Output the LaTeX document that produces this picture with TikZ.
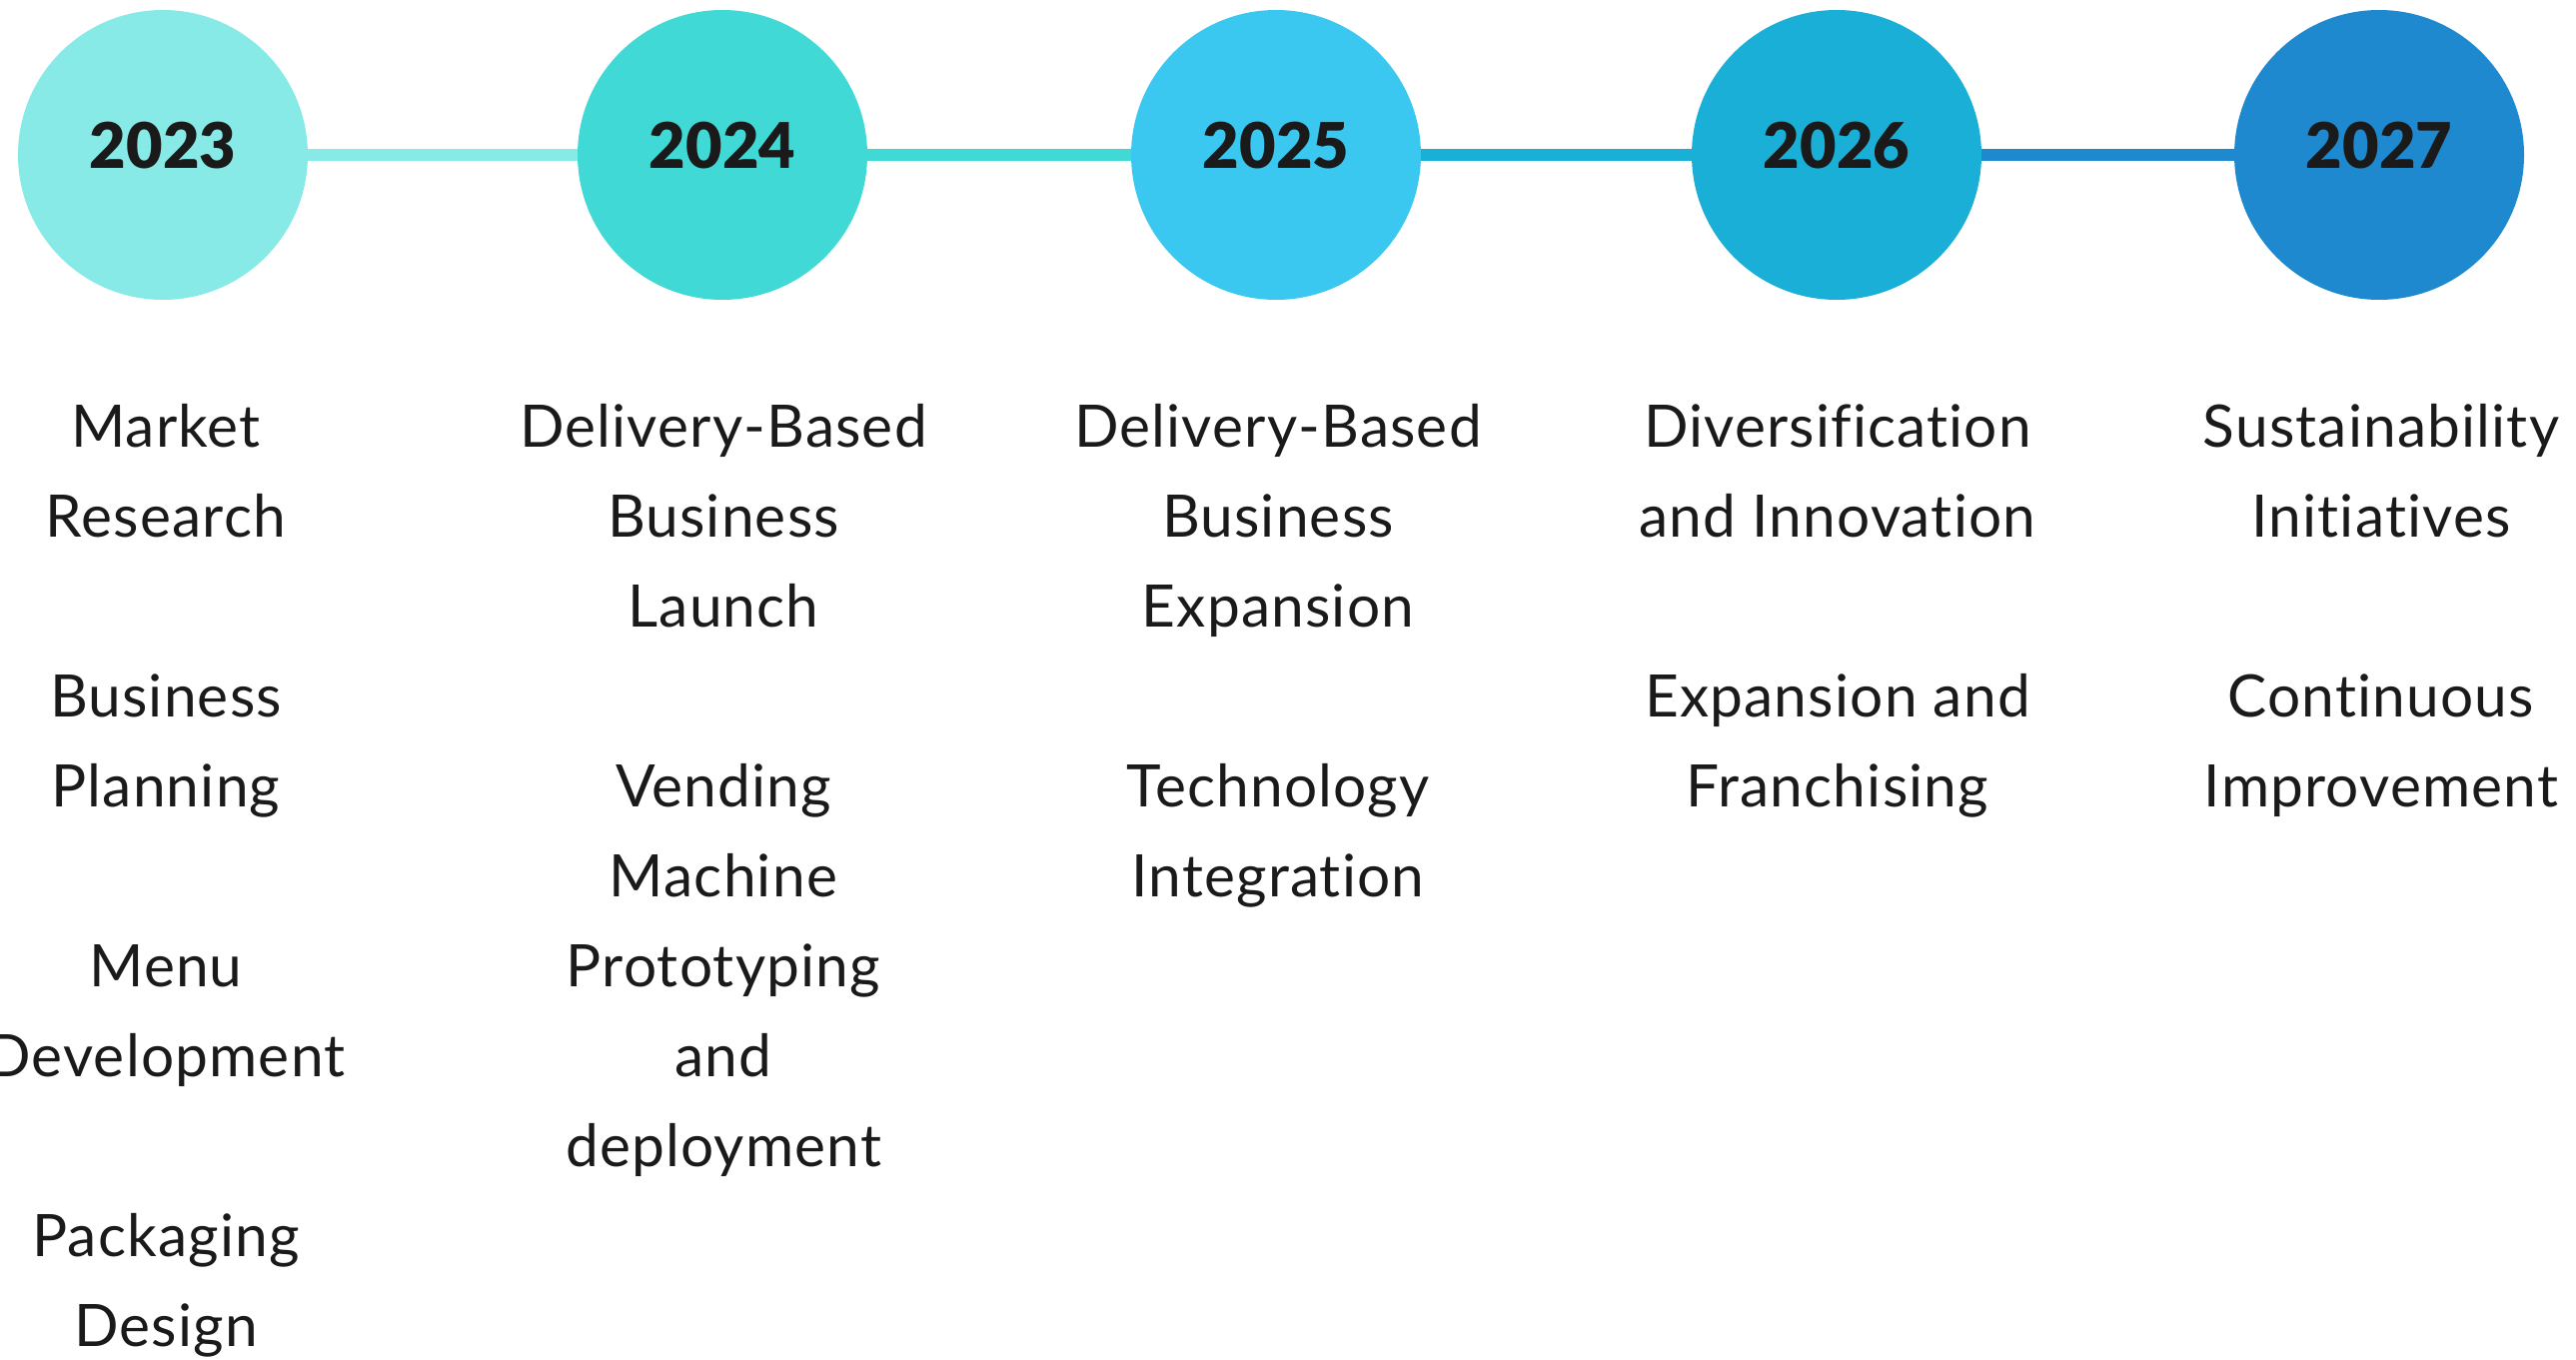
\documentclass[tikz,border=0pt]{standalone}
\usepackage{fontspec}
\setmainfont{Lato}[Ligatures=NoCommon,LetterSpace=2]
\newfontfamily\yearfamily{Lato}[Ligatures=NoCommon,BoldFont={Lato Black}]
\begin{document}
\definecolor{cA}{HTML}{88EAE7}
\definecolor{cB}{HTML}{40D9D6}
\definecolor{cC}{HTML}{3AC8F0}
\definecolor{cD}{HTML}{1AAFD6}
\definecolor{cE}{HTML}{1E89CF}
\definecolor{ink}{HTML}{1A1A1A}
\begin{tikzpicture}[x=1pt,y=-1pt,
  yeardot/.style={circle,fill=#1,draw=none,minimum size=290pt,inner sep=0pt},
  yeartext/.style={text=ink,font=\yearfamily\fontsize{63}{63}\selectfont\bfseries,yshift=9pt},
  link/.style={line width=12pt,draw=#1},
  item/.style={text=ink,align=center,anchor=base,inner sep=0pt,
    font=\fontsize{58.6}{90}\selectfont}]
  \useasboundingbox (0,0) rectangle (2578,1360);

  % timeline markers
  \node[yeardot=cA] (y1) at (163,155) {};
  \node[yeardot=cB] (y2) at (723,155) {};
  \node[yeardot=cC] (y3) at (1277,155) {};
  \node[yeardot=cD] (y4) at (1838,155) {};
  \node[yeardot=cE] (y5) at (2381,155) {};

  \node[yeartext] (t1) at (y1) {2023};
  \node[yeartext] (t2) at (y2) {2024};
  \node[yeartext] (t3) at (y3) {2025};
  \node[yeartext] (t4) at (y4) {2026};
  \node[yeartext] (t5) at (y5) {2027};

  % connecting bars
  \draw[link=cA] (y1) -- (y2);
  \draw[link=cB] (y2) -- (y3);
  \draw[link=cD] (y3) -- (y4);
  \draw[link=cE] (y4) -- (y5);

  % milestones; each node sits on the baseline of its last line (rows every 90pt)
  \node[item] (a1) at (166,537) {Market\\Research};
  \node[item] (a2) at (166,807) {Business\\Planning};
  \node[item] (a3) at (166,1077) {Menu\\Development};
  \node[item] (a4) at (166,1347) {Packaging\\Design};

  \node[item] (b1) at (724,627) {Delivery-Based\\Business\\Launch};
  \node[item] (b2) at (724,1167) {Vending\\Machine\\Prototyping\\and\\deployment};

  \node[item] (c1) at (1279,627) {Delivery-Based\\Business\\Expansion};
  \node[item] (c2) at (1279,897) {Technology\\Integration};

  \node[item] (d1) at (1839,537) {Diversification\\and Innovation};
  \node[item] (d2) at (1839,807) {Expansion and\\Franchising};

  \node[item] (e1) at (2383,537) {Sustainability\\Initiatives};
  \node[item] (e2) at (2383,807) {Continuous\\Improvement};
\end{tikzpicture}
\end{document}
